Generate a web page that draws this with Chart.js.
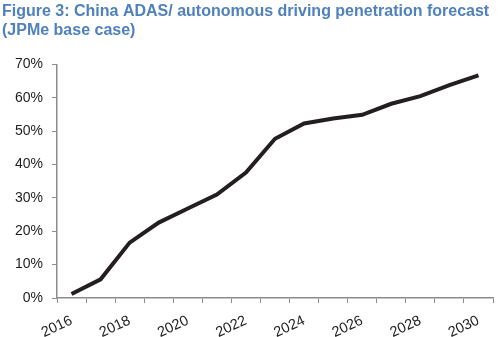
<!DOCTYPE html>
<html>
<head>
<meta charset="utf-8">
<script src="https://cdn.jsdelivr.net/npm/chart.js@4.4.1/dist/chart.umd.min.js"></script>
<style>
  html, body { margin: 0; padding: 0; background: #fff; }
  #wrap { position: relative; width: 500px; height: 337px; }
</style>
</head>
<body>
<div id="wrap"><canvas id="c" width="500" height="337"></canvas></div>
<script>
// Penetration forecast, 2016-2030 (share of new vehicles)
const years = ['2016','2017','2018','2019','2020','2021','2022','2023','2024','2025','2026','2027','2028','2029','2030'];
const penetration = [1.2, 5.6, 16.6, 22.6, 26.8, 31.0, 37.6, 47.7, 52.3, 53.8, 54.9, 58.2, 60.5, 63.8, 66.7];
const yTicks = [0, 10, 20, 30, 40, 50, 60, 70];
const titleLines = ['Figure 3: China ADAS/ autonomous driving penetration forecast', '(JPMe base case)'];

const FONT = "'Liberation Sans', Arial, sans-serif";

new Chart(document.getElementById('c'), {
  type: 'line',
  data: {
    labels: years,
    datasets: [{
      data: penetration,
      borderColor: '#231f20',
      borderWidth: 4,
      pointRadius: 0,
      tension: 0,
      fill: false
    }]
  },
  options: {
    responsive: false,
    animation: false,
    layout: { padding: { left: 2, right: 7, top: 0, bottom: 0 } },
    plugins: {
      legend: { display: false },
      tooltip: { enabled: false },
      title: {
        display: true,
        text: titleLines,
        align: 'start',
        color: '#4f81bd',
        font: { family: FONT, size: 16, weight: 'bold', lineHeight: 1.2 },
        padding: { top: 2, bottom: 24 }
      }
    },
    scales: {
      x: {
        type: 'category',
        offset: true,
        grid: {
          offset: true,
          drawOnChartArea: false,
          drawTicks: true,
          tickLength: 5,
          color: '#8c8c8c',
          lineWidth: 1
        },
        border: { display: true, color: '#8c8c8c', width: 1.5 },
        afterFit: function (axis) { axis.height = 39; },
        ticks: {
          autoSkip: false,
          minRotation: 25,
          maxRotation: 25,
          color: '#1e1e1e',
          padding: 9,
          font: { family: FONT, size: 14.5 },
          callback: function (v, i) { return i % 2 === 0 ? years[i] : ''; }
        }
      },
      y: {
        min: 0,
        max: 70,
        afterBuildTicks: function (axis) { axis.ticks = yTicks.map(v => ({ value: v })); },
        afterFit: function (axis) { axis.width = 55; },
        grid: {
          drawOnChartArea: false,
          drawTicks: true,
          tickLength: 5,
          color: '#8c8c8c'
        },
        border: { display: true, color: '#8c8c8c', width: 1.5 },
        ticks: {
          color: '#1e1e1e',
          padding: 9,
          font: { family: FONT, size: 14 },
          callback: function (v) { return v + '%'; }
        }
      }
    }
  }
});
</script>
</body>
</html>
